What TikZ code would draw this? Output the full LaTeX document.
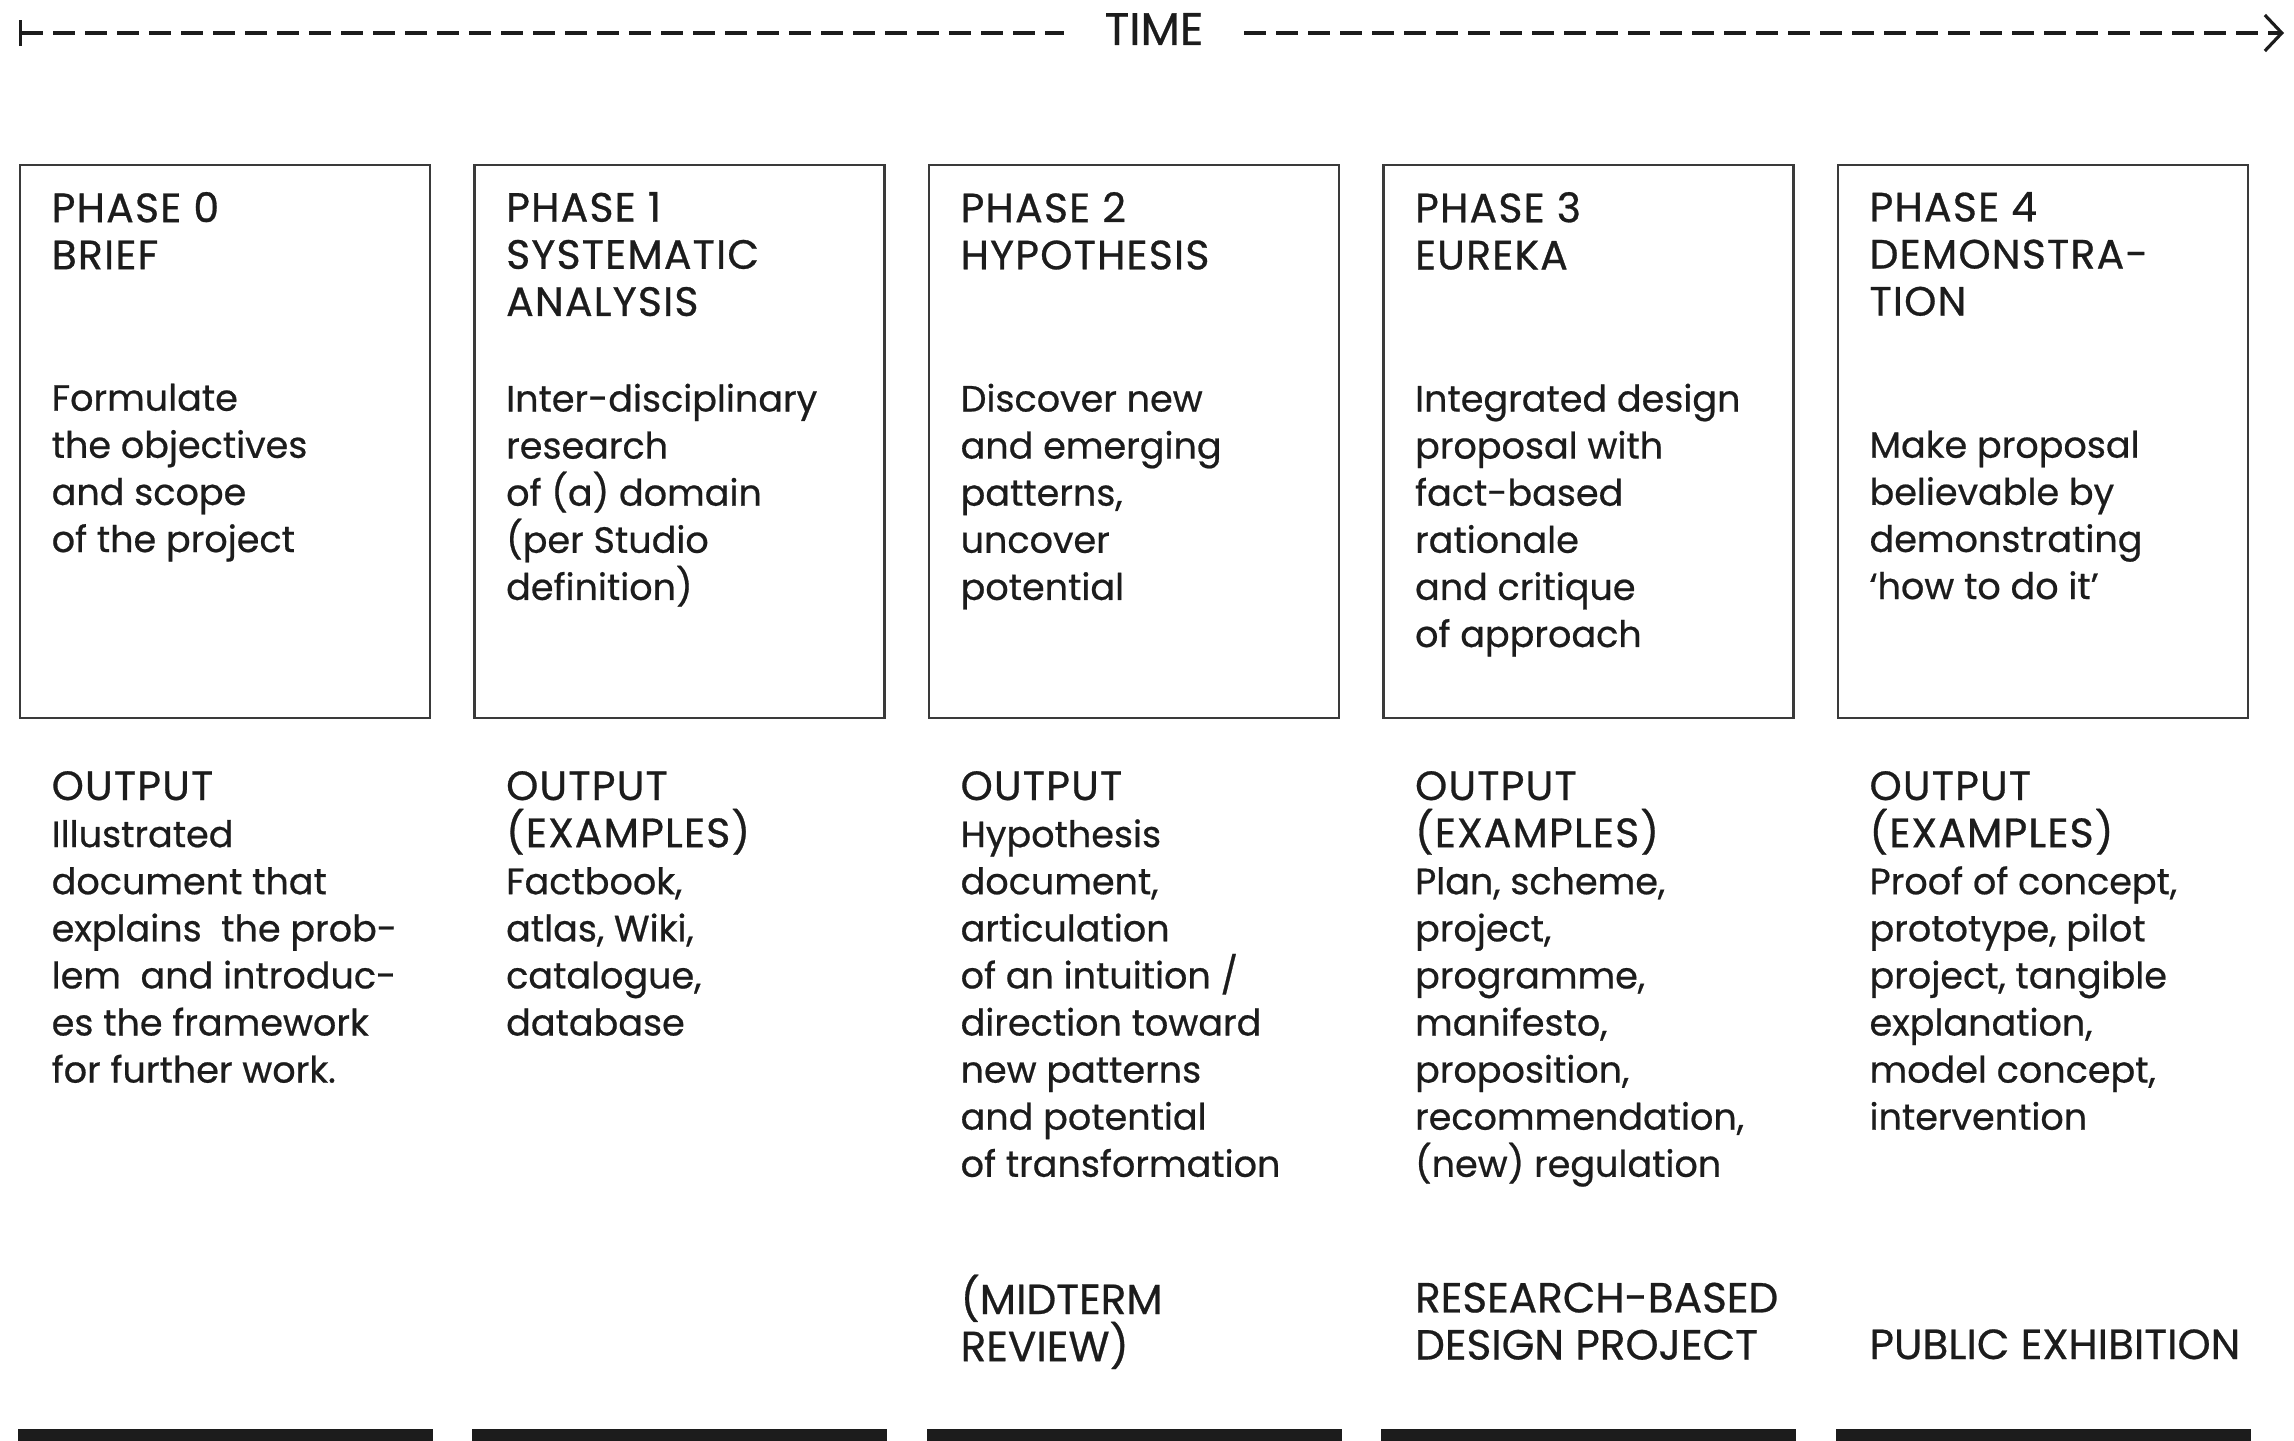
\documentclass[tikz,border=0pt]{standalone}
\usepackage{fontspec}
\setmainfont{Poppins}[RawFeature={embolden=0.6}]
\newfontfamily\capsfont{Poppins}[Scale=1.12,LetterSpace=3,RawFeature={embolden=0.7}]
\usetikzlibrary{arrows.meta,positioning}
\definecolor{ink}{HTML}{1C1C1C}
\definecolor{frame}{HTML}{3A3A3A}
\tikzset{
  phase/.style={draw=frame,line width=.7pt,minimum width=4.1cm,minimum height=5.53cm,inner sep=0pt},
  txt/.style={anchor=north west,align=left,inner sep=0pt,text=ink,font=\fontsize{10.4}{13.4}\selectfont,
    execute at begin node={\vrule width 0pt height 10.5pt depth 0pt\relax}},
  head/.style={txt,font=\capsfont\fontsize{10.4}{13.4}\selectfont},
  milestone/.style={txt,font=\fontsize{12}{13.4}\selectfont},
  bar/.style={fill=ink,inner sep=0pt,anchor=north,minimum width=4.15cm,minimum height=.3cm},
  timeline/.style={line width=.9pt,draw=ink,dash pattern=on .22cm off .1cm}
}

\begin{document}
\lineskiplimit=-\maxdimen
\begin{tikzpicture}[node distance=4.2mm]
  \useasboundingbox (0,0) rectangle (22.94,-14.41);
  % time axis
  \coordinate (tstart) at (0.19,-0.33);
  \coordinate (tend) at (22.84,-0.33);
  \node[text=ink,anchor=base,inner sep=0pt,inner xsep=.4cm,font=\fontsize{13}{14}\selectfont] (time) at (11.54,-0.45) {TIME};
  \draw[timeline,{Bar[width=.26cm]}-] (tstart) -- (tstart -| time.west);
  \draw[timeline,-{Straight Barb[length=.17cm,width=.36cm]}] (time.east |- tend) -- (tend);
  % phase boxes
  \node[phase,anchor=north west] (p0) at (0.19,-1.64) {};
  \node[phase,right=of p0] (p1) {};
  \node[phase,right=of p1] (p2) {};
  \node[phase,right=of p2] (p3) {};
  \node[phase,right=of p3] (p4) {};
  \node[head] (h0) at ([shift={(.32,-.274)}]p0.north west) {PHASE 0\\BRIEF};
  \node[head] (h1) at ([shift={(.32,-.274)}]p1.north west) {PHASE 1\\SYSTEMATIC\\ANALYSIS};
  \node[head] (h2) at ([shift={(.32,-.274)}]p2.north west) {PHASE 2\\HYPOTHESIS};
  \node[head] (h3) at ([shift={(.32,-.274)}]p3.north west) {PHASE 3\\EUREKA};
  \node[head] (h4) at ([shift={(.32,-.274)}]p4.north west) {PHASE 4\\DEMONSTRA-\\TION};
  \node[txt] (d0) at ([shift={(.32,-2.19)}]p0.north west) {Formulate\\the objectives\\and scope\\of the project};
  \node[txt] (d1) at ([shift={(.32,-2.19)}]p1.north west) {Inter-disciplinary\\research\\of (a) domain\\(per Studio\\definition)};
  \node[txt] (d2) at ([shift={(.32,-2.19)}]p2.north west) {Discover new\\and emerging\\patterns,\\uncover\\potential};
  \node[txt] (d3) at ([shift={(.32,-2.19)}]p3.north west) {Integrated design\\proposal with\\fact-based\\rationale\\and critique\\of approach};
  \node[txt] (d4) at ([shift={(.32,-2.66)}]p4.north west) {Make proposal\\believable by\\demonstrating\\‘how to do it’};
  % outputs
  \node[txt] (o0) at ([shift={(.32,-.51)}]p0.south west) {{\capsfont OUTPUT}\\Illustrated\\document that\\explains\ \ the prob-\\lem\ \ and introduc-\\es the framework\\for further work.};
  \node[txt] (o1) at ([shift={(.32,-.51)}]p1.south west) {{\capsfont OUTPUT}\\{\capsfont (EXAMPLES)}\\Factbook,\\atlas, Wiki,\\catalogue,\\database};
  \node[txt] (o2) at ([shift={(.32,-.51)}]p2.south west) {{\capsfont OUTPUT}\\Hypothesis\\document,\\articulation\\of an intuition /\\direction toward\\new patterns\\and potential\\of transformation};
  \node[txt] (o3) at ([shift={(.32,-.51)}]p3.south west) {{\capsfont OUTPUT}\\{\capsfont (EXAMPLES)}\\Plan, scheme,\\project,\\programme,\\manifesto,\\proposition,\\recommendation,\\(new) regulation};
  \node[txt] (o4) at ([shift={(.32,-.51)}]p4.south west) {{\capsfont OUTPUT}\\{\capsfont (EXAMPLES)}\\Proof of concept,\\prototype, pilot\\project, tangible\\explanation,\\model concept,\\intervention};
  % milestones
  \node[milestone] (m2) at ([shift={(.32,-5.545)}]p2.south west) {(MIDTERM\\REVIEW)};
  \node[milestone] (m3) at ([shift={(.32,-5.625)}]p3.south west) {RESEARCH-BASED\\DESIGN PROJECT};
  \node[milestone] (m4) at ([shift={(.32,-6.02)}]p4.south west) {PUBLIC EXHIBITION};
  % bars
  \node[bar] (b0) at ([yshift=-7.09cm]p0.south) {};
  \node[bar] (b1) at ([yshift=-7.09cm]p1.south) {};
  \node[bar] (b2) at ([yshift=-7.09cm]p2.south) {};
  \node[bar] (b3) at ([yshift=-7.09cm]p3.south) {};
  \node[bar] (b4) at ([yshift=-7.09cm]p4.south) {};
\end{tikzpicture}
\end{document}
